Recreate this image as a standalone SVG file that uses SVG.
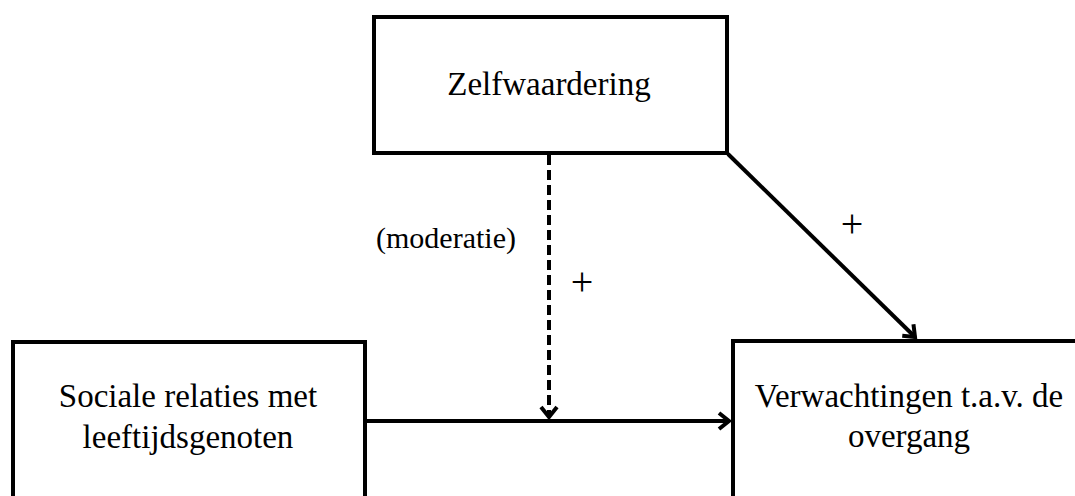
<svg xmlns="http://www.w3.org/2000/svg" width="1075" height="496" viewBox="0 0 1075 496">
<style>
.box{fill:#fff;stroke:#000;stroke-width:4}
.t{font-family:"Liberation Serif","Times New Roman",serif;font-size:33px;fill:#000;text-anchor:middle}
.s{font-family:"Liberation Serif","Times New Roman",serif;font-size:30px;fill:#000;text-anchor:middle}
.p{font-family:"Liberation Serif","Times New Roman",serif;font-size:40px;fill:#000;text-anchor:middle}
.c{stroke:#000;stroke-width:4;fill:none}
.d{stroke-dasharray:10 5}
</style>
<defs>
<marker id="ah" markerUnits="userSpaceOnUse" viewBox="-14 -10 16 20" refX="0" refY="0" markerWidth="16" markerHeight="20" orient="auto" overflow="visible">
<path d="M-10,-8 L0,0 L-10,8" fill="none" stroke="#000" stroke-width="4" stroke-linejoin="miter"/>
</marker>
</defs>
<g id="node-zelfwaardering">
<rect class="box" x="374" y="17" width="353" height="136"/>
<text class="t" x="549" y="95">Zelfwaardering</text>
</g>
<g id="node-sociale">
<rect class="box" x="13" y="342" width="352" height="170"/>
<text class="t" x="188" y="407">Sociale relaties met</text>
<text class="t" x="188" y="448">leeftijdsgenoten</text>
</g>
<g id="node-verwachtingen">
<rect class="box" x="733" y="341" width="360" height="170"/>
<text class="t" x="909" y="407">Verwachtingen t.a.v. de</text>
<text class="t" x="909" y="447">overgang</text>
</g>
<g id="connectors">
<line class="c" x1="365" y1="421" x2="729" y2="421" marker-end="url(#ah)"/>
<line class="c d" x1="549" y1="155" x2="549" y2="417" marker-end="url(#ah)"/>
<line class="c" x1="728" y1="154" x2="915" y2="337" marker-end="url(#ah)"/>
<text class="s" x="446" y="248">(moderatie)</text>
<text class="p" x="582" y="295">+</text>
<text class="p" x="852" y="237">+</text>
</g>
</svg>
